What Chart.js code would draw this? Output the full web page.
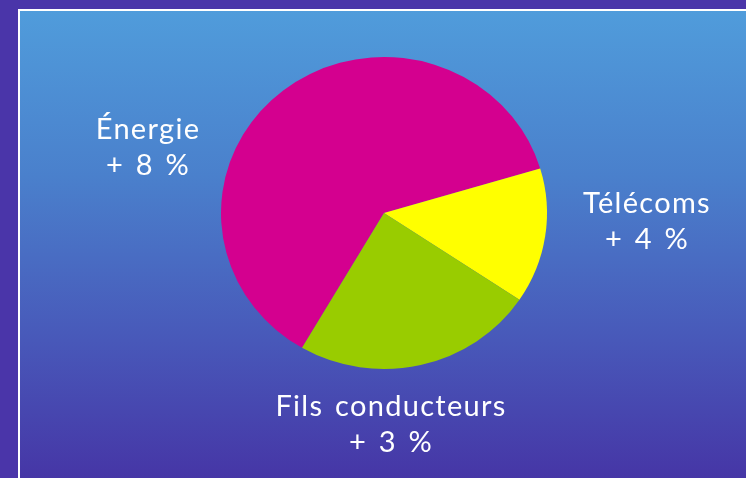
<!DOCTYPE html>
<html>
<head>
<meta charset="utf-8">
<script src="https://cdn.jsdelivr.net/npm/chart.js@4/dist/chart.umd.min.js"></script>
<style>
  html, body { margin: 0; padding: 0; }
  body { width: 746px; height: 478px; background: #4a35a9; position: relative; overflow: hidden; }
  #panel {
    position: absolute; left: 18px; top: 9px; width: 780px; height: 500px;
    border-left: 2px solid #fff; border-top: 2px solid #fff;
    background: linear-gradient(to bottom, #509cdb 0px, #4a80cc 165px, #4858b9 330px, #4636a6 467px);
  }
  #wrap { position: absolute; left: 0; top: 0; width: 746px; height: 478px; }
</style>
</head>
<body>
<div id="panel"></div>
<div id="wrap"><canvas id="c" width="746" height="478"></canvas></div>
<script>
const categories = ['Énergie', 'Télécoms', 'Fils conducteurs'];
const shares = [62, 14, 24];
const growthLabels = ['+ 8 %', '+ 4 %', '+ 3 %'];
const sliceColors = ['#d4008f', '#ffff00', '#99cc00'];

const CX = 384, CY = 213, SY = 0.957;

const ellipsePlugin = {
  id: 'ellipse',
  beforeDatasetsDraw(chart) {
    const ctx = chart.ctx;
    ctx.save();
    ctx.translate(0, CY);
    ctx.scale(1, SY);
    ctx.translate(0, -CY);
  },
  afterDatasetsDraw(chart) {
    chart.ctx.restore();
  }
};

const labelPos = [
  { x: 148, y: 139 },
  { x: 647, y: 213 },
  { x: 391, y: 416 }
];

const labelPlugin = {
  id: 'outerLabels',
  afterDraw(chart) {
    const ctx = chart.ctx;
    ctx.save();
    ctx.fillStyle = '#ffffff';
    ctx.textAlign = 'center';
    ctx.textBaseline = 'alphabetic';
    ctx.font = '29px Lato';
    ctx.letterSpacing = '1.3px';
    ctx.wordSpacing = '3px';
    chart.data.labels.forEach((lab, i) => {
      const p = labelPos[i];
      ctx.fillText(lab, p.x, p.y);
      ctx.fillText(growthLabels[i], p.x, p.y + 36);
    });
    ctx.restore();
  }
};

new Chart(document.getElementById('c'), {
  type: 'pie',
  data: {
    labels: categories,
    datasets: [{
      data: shares,
      backgroundColor: sliceColors,
      borderWidth: 0,
      hoverOffset: 0,
      radius: 163
    }]
  },
  options: {
    responsive: false,
    animation: false,
    rotation: 210.2,
    layout: { padding: { left: 22, right: 0, top: 0, bottom: 52 } },
    plugins: { legend: { display: false }, tooltip: { enabled: false } },
    events: []
  },
  plugins: [ellipsePlugin, labelPlugin]
});
</script>
</body>
</html>
